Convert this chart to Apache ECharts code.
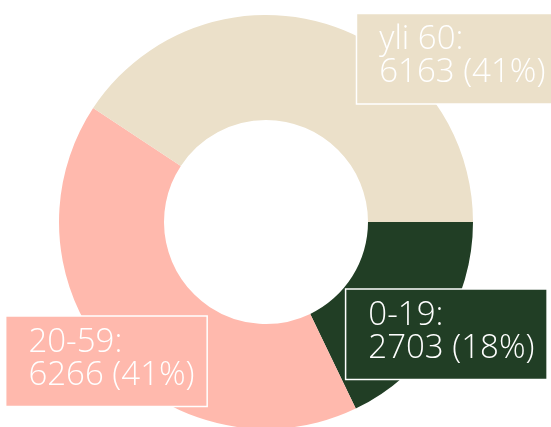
<!DOCTYPE html>
<html>
<head>
<meta charset="utf-8">
<script src="https://cdn.jsdelivr.net/npm/echarts@6/dist/echarts.min.js"></script>
<style>
  html, body { margin: 0; padding: 0; background: #fff; }
  #ageChart { width: 551px; height: 427px; }
</style>
</head>
<body>
<div id="ageChart"></div>
<script>
const categories = ['0-19', '20-59', 'yli 60'];
const values = [2703, 6266, 6163];
const colors = ['#213e25', '#ffb9ad', '#ebe0c9'];
// shift of each label box (top-left corner) from the default inside spot
const labelShift = [[-53, -16], [-141, -9], [46, -57]];

const chart = echarts.init(document.getElementById('ageChart'));
chart.setOption({
  animation: false,
  series: [
    {
      type: 'pie',
      center: [266, 222],
      radius: [102, 207],
      startAngle: 0,
      clockwise: true,
      percentPrecision: 0,
      data: categories.map((name, i) => ({
        name: name,
        value: values[i],
        itemStyle: { color: colors[i] },
        label: { backgroundColor: colors[i] },
      })),
      label: {
        show: true,
        position: 'inside',
        formatter: '{b}:\n{c} ({d}%)',
        color: '#fff',
        fontFamily: 'Open Sans',
        fontWeight: 300,
        fontSize: 33,
        lineHeight: 33,
        width: 172,
        padding: [9, 6, 14, 22],
        borderColor: '#fff',
        borderWidth: 1.5,
      },
      labelLine: { show: false },
      labelLayout: (params) => ({
        align: 'left',
        verticalAlign: 'top',
        dx: labelShift[params.dataIndex][0],
        dy: labelShift[params.dataIndex][1],
      }),
      emphasis: { disabled: true },
    },
  ],
});
</script>
</body>
</html>
